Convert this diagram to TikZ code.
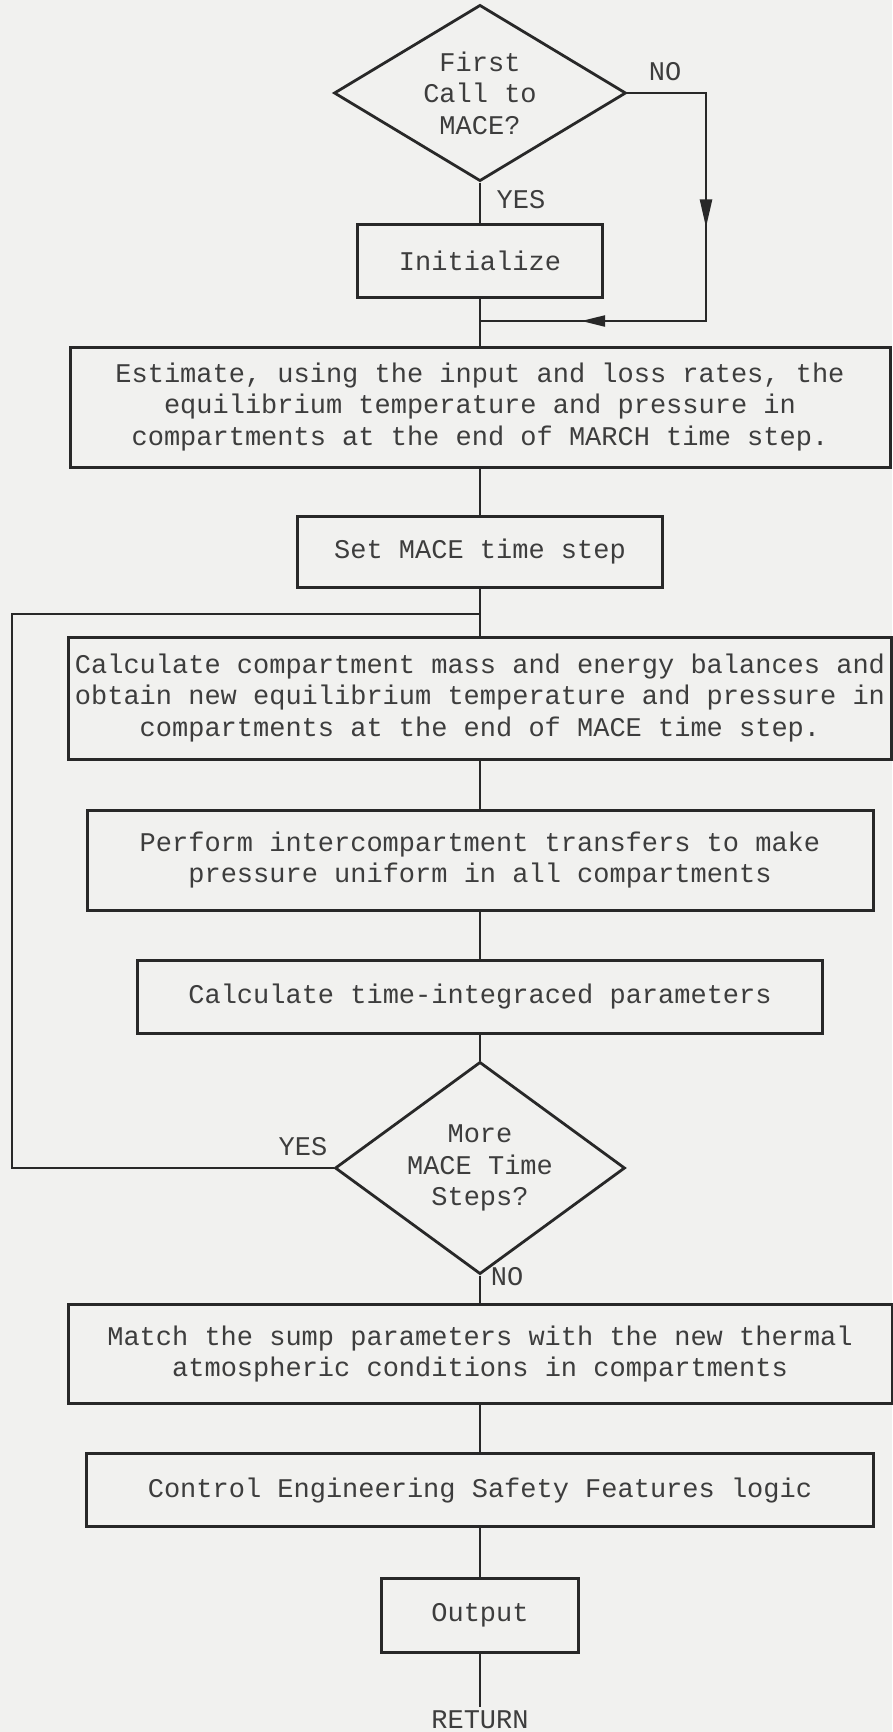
\documentclass[tikz,border=0pt]{standalone}
\usepackage{fontspec}
\setmonofont{Liberation Mono}
\usepackage{tikz}
\usetikzlibrary{shapes.geometric,arrows.meta,decorations.markings}
\definecolor{paper}{RGB}{241,241,239}
\definecolor{ink}{RGB}{40,40,40}
\newcommand{\flowfont}{\ttfamily\fontsize{27}{31.5}\selectfont}
\tikzset{
    process-box/.style = {draw=ink, line width=3pt, rectangle, inner sep=0pt, align=center, font=\flowfont, text=ink!90},
    decision-box/.style = {draw=ink, line width=2.8pt, diamond, inner sep=-5pt, align=center, font=\flowfont, text=ink!90},
    flow-line/.style = {draw=ink, line width=2.4pt},
    branch-label/.style = {font=\flowfont, text=ink!90},
    no-arrows/.style = {postaction={decorate}, decoration={markings,
        mark=at position 0.40 with {\arrow{Triangle[length=28pt,width=12pt]}},
        mark=at position 0.81 with {\arrow{Triangle[length=24pt,width=11pt]}}}},
}

\begin{document}
\begin{tikzpicture}[x=1pt, y=-1pt]
\fill[paper] (0,0) rectangle (892,1732);
\useasboundingbox (0,0) rectangle (892,1732);

\node[decision-box, minimum width=292pt, minimum height=168pt] (first) at (480,93) {First\\Call to\\MACE?};
\node[process-box, minimum width=245pt, minimum height=73pt] (init) at (480,261) {Initialize};
\node[process-box, minimum width=820pt, minimum height=120pt] (est) at (480,407) {Estimate, using the input and loss rates, the\\equilibrium temperature and pressure in\\compartments at the end of MARCH time step.};
\node[process-box, minimum width=365pt, minimum height=71pt] (setstep) at (480,552) {Set MACE time step};
\node[process-box, minimum width=823pt, minimum height=122pt] (calc) at (480,698) {Calculate compartment mass and energy balances and\\obtain new equilibrium temperature and pressure in\\compartments at the end of MACE time step.};
\node[process-box, minimum width=786pt, minimum height=100pt] (xfer) at (480,860) {Perform intercompartment transfers to make\\pressure uniform in all compartments};
\node[process-box, minimum width=685pt, minimum height=73pt] (integ) at (480,997) {Calculate time-integraced parameters};
\node[decision-box, minimum width=290pt, minimum height=170pt] (more) at (480,1168) {More\\MACE Time\\Steps?};
\node[process-box, minimum width=824pt, minimum height=99pt] (match) at (480,1354) {Match the sump parameters with the new thermal\\atmospheric conditions in compartments};
\node[process-box, minimum width=787pt, minimum height=73pt] (esf) at (480,1490) {Control Engineering Safety Features logic};
\node[process-box, minimum width=197pt, minimum height=74pt] (output) at (480,1615) {Output};
\node[branch-label] (ret) at (480,1720) {RETURN};

% branch labels
\node[branch-label] (no-first) at (665,72) {NO};
\node[branch-label] (yes-first) at (521,200) {YES};
\node[branch-label] (yes-more) at (303,1147) {YES};
\node[branch-label] (no-more) at (507,1277) {NO};

\coordinate (no-corner) at (706,321);
\coordinate (no-join) at (480,321);
\coordinate (loop-corner) at (12,614);
\coordinate (loop-join) at (480,614);

\draw[flow-line] (first) -- (init);
\draw[flow-line] (init) -- (est);
\draw[flow-line, no-arrows] (first.east) -| (no-corner) -- (no-join);
\draw[flow-line] (est) -- (setstep);
\draw[flow-line] (setstep) -- (calc);
\draw[flow-line] (calc) -- (xfer);
\draw[flow-line] (xfer) -- (integ);
\draw[flow-line] (integ) -- (more);
\draw[flow-line] (more.west) -| (loop-corner) -- (loop-join);
\draw[flow-line] (more) -- (match);
\draw[flow-line] (match) -- (esf);
\draw[flow-line] (esf) -- (output);
\draw[flow-line] (output) -- (ret);
\end{tikzpicture}
\end{document}
